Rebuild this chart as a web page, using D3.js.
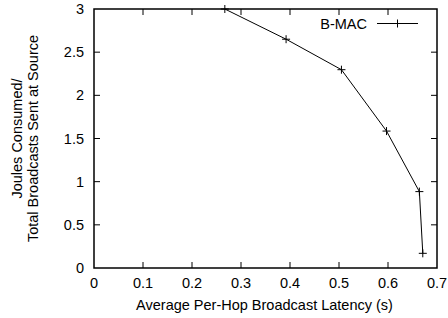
<!DOCTYPE html>
<html>
<head>
<meta charset="utf-8">
<script src="https://cdn.jsdelivr.net/npm/d3@7"></script>
<style>
  body { margin: 0; background: #fff; }
  text { font-family: "Liberation Sans", Arial, Helvetica, sans-serif; fill: #000; }
</style>
</head>
<body>
<div id="container"></div>
<script>
// valeurs
const latency = [0.267, 0.392, 0.505, 0.597, 0.664, 0.671];
const joules = [3.0, 2.65, 2.297, 1.586, 0.885, 0.17];
const seriesName = "B-MAC";
const xTicks = [0, 0.1, 0.2, 0.3, 0.4, 0.5, 0.6, 0.7];
const yTicks = [0, 0.5, 1, 1.5, 2, 2.5, 3];

const width = 448, height = 318;
const margin = {left: 94, right: 11, top: 9, bottom: 50};
const fs = 14.5;

const x = d3.scaleLinear().domain([0, 0.7]).range([margin.left, width - margin.right]);
const y = d3.scaleLinear().domain([0, 3]).range([height - margin.bottom, margin.top]);

const points = latency.map((v, i) => ({x: v, y: joules[i]}));

const svg = d3.create("svg")
    .attr("width", width)
    .attr("height", height);

// ticks vers l'intérieur, sur les quatre côtés
const tick = 6;
const ticks = svg.append("g").attr("stroke", "#000").attr("stroke-width", 1);
for (let t of xTicks.slice(1, -1)) {
    ticks.append("line").attr("x1", x(t)).attr("x2", x(t))
        .attr("y1", y(0)).attr("y2", y(0) - tick);
    ticks.append("line").attr("x1", x(t)).attr("x2", x(t))
        .attr("y1", y(3)).attr("y2", y(3) + tick);
}
for (let t of yTicks.slice(1, -1)) {
    ticks.append("line").attr("y1", y(t)).attr("y2", y(t))
        .attr("x1", x(0)).attr("x2", x(0) + tick);
    ticks.append("line").attr("y1", y(t)).attr("y2", y(t))
        .attr("x1", x(0.7)).attr("x2", x(0.7) - tick);
}

// cadre
svg.append("rect")
    .attr("x", x(0)).attr("y", y(3))
    .attr("width", x(0.7) - x(0)).attr("height", y(0) - y(3))
    .attr("fill", "none").attr("stroke", "#000").attr("stroke-width", 1.5);

// étiquettes des ticks
svg.append("g").selectAll("text")
    .data(xTicks).join("text")
    .attr("x", d => x(d)).attr("y", y(0) + 20)
    .attr("text-anchor", "middle")
    .attr("font-size", fs)
    .text(d => d);

svg.append("g").selectAll("text")
    .data(yTicks).join("text")
    .attr("x", x(0) - 10).attr("y", d => y(d) + 5)
    .attr("text-anchor", "end")
    .attr("font-size", fs)
    .text(d => d);

// titres
svg.append("text")
    .attr("x", (x(0) + x(0.7)) / 2 - 1).attr("y", 310)
    .attr("text-anchor", "middle").attr("font-size", fs)
    .text("Average Per-Hop Broadcast Latency (s)");

const cy = (y(0) + y(3)) / 2;
const ytitle = svg.append("text")
    .attr("transform", `translate(22,${cy}) rotate(-90)`)
    .attr("text-anchor", "middle").attr("font-size", fs);
ytitle.append("tspan").attr("x", 0).attr("dy", 0).text("Joules Consumed/");
ytitle.append("tspan").attr("x", 0).attr("dy", 16).text("Total Broadcasts Sent at Source");

// la courbe
const line = d3.line().x(d => x(d.x)).y(d => y(d.y));
svg.append("path")
    .datum(points)
    .attr("d", line)
    .attr("fill", "none").attr("stroke", "#000").attr("stroke-width", 1);

const m = 4;
const marks = svg.append("g").attr("stroke", "#000").attr("stroke-width", 1);
for (let p of points) {
    marks.append("line").attr("x1", x(p.x) - m).attr("x2", x(p.x) + m)
        .attr("y1", y(p.y)).attr("y2", y(p.y));
    marks.append("line").attr("x1", x(p.x)).attr("x2", x(p.x))
        .attr("y1", y(p.y) - m).attr("y2", y(p.y) + m);
}

// légende
const leg = svg.append("g");
leg.append("text").attr("x", 367).attr("y", 28.5)
    .attr("text-anchor", "end").attr("font-size", fs).text(seriesName);
leg.append("line").attr("x1", 377).attr("x2", 418).attr("y1", 23.5).attr("y2", 23.5)
    .attr("stroke", "#000");
leg.append("line").attr("x1", 397.5).attr("x2", 397.5).attr("y1", 19.5).attr("y2", 27.5)
    .attr("stroke", "#000");

d3.select("#container").node().append(svg.node());
</script>
</body>
</html>
